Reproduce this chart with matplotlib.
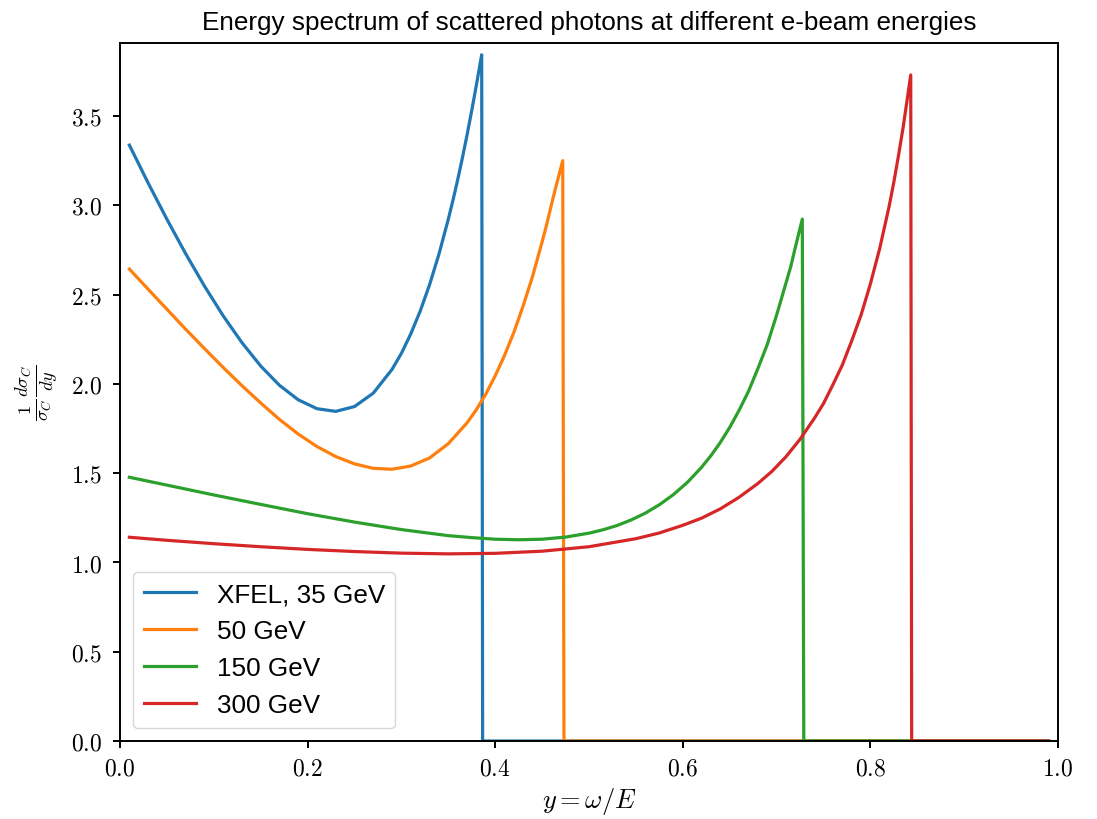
import numpy as np
import matplotlib as mpl
mpl.use('Agg')
import matplotlib.pyplot as plt

# values (y = omega/E, normalised spectrum)
xfel_x = [0.01, 0.03, 0.05, 0.07, 0.09, 0.11, 0.13, 0.15, 0.17, 0.19, 0.21, 0.23,
          0.25, 0.27, 0.29, 0.30, 0.31, 0.32, 0.33, 0.34, 0.35, 0.355, 0.36, 0.365,
          0.37, 0.375, 0.38, 0.383, 0.3856, 0.3866, 0.99]
xfel_y = [3.337, 3.125, 2.922, 2.729, 2.548, 2.381, 2.231, 2.100, 1.992, 1.911, 1.861, 1.846,
          1.873, 1.948, 2.081, 2.171, 2.280, 2.407, 2.555, 2.726, 2.922, 3.029, 3.143, 3.265,
          3.394, 3.531, 3.675, 3.766, 3.843, 0.0, 0.0]

e50_x = [0.01, 0.03, 0.05, 0.07, 0.09, 0.11, 0.13, 0.15, 0.17, 0.19, 0.21, 0.23,
         0.25, 0.27, 0.29, 0.31, 0.33, 0.35, 0.37, 0.38, 0.39, 0.40, 0.41, 0.42,
         0.43, 0.44, 0.45, 0.455, 0.46, 0.465, 0.472, 0.4733, 0.99]
e50_y = [2.643, 2.530, 2.418, 2.306, 2.198, 2.092, 1.990, 1.893, 1.801, 1.719, 1.649, 1.593,
         1.552, 1.527, 1.522, 1.540, 1.585, 1.665, 1.782, 1.856, 1.943, 2.045, 2.160, 2.290,
         2.440, 2.605, 2.795, 2.895, 3.005, 3.110, 3.250, 0.0, 0.0]

e150_x = [0.01, 0.05, 0.10, 0.15, 0.20, 0.25, 0.30, 0.35, 0.375, 0.40, 0.425, 0.45,
          0.475, 0.50, 0.515, 0.53, 0.545, 0.56, 0.575, 0.59, 0.605, 0.62, 0.63, 0.64,
          0.65, 0.66, 0.67, 0.68, 0.69, 0.70, 0.71, 0.715, 0.72, 0.7235, 0.7274, 0.7290, 0.99]
e150_y = [1.477, 1.433, 1.378, 1.325, 1.273, 1.226, 1.184, 1.150, 1.139, 1.130, 1.127, 1.130,
          1.142, 1.164, 1.183, 1.207, 1.238, 1.276, 1.323, 1.380, 1.449, 1.533, 1.598, 1.672,
          1.756, 1.852, 1.958, 2.085, 2.220, 2.385, 2.565, 2.655, 2.765, 2.840, 2.923, 0.0, 0.0]

e300_x = [0.01, 0.05, 0.10, 0.15, 0.20, 0.25, 0.30, 0.35, 0.40, 0.45, 0.50, 0.55,
          0.575, 0.60, 0.62, 0.64, 0.66, 0.68, 0.695, 0.71, 0.725, 0.74, 0.75, 0.76,
          0.77, 0.78, 0.79, 0.80, 0.81, 0.82, 0.825, 0.83, 0.835, 0.839, 0.843, 0.8440, 0.99]
e300_y = [1.141, 1.124, 1.105, 1.088, 1.073, 1.061, 1.052, 1.048, 1.051, 1.063, 1.088, 1.133,
          1.165, 1.208, 1.248, 1.300, 1.365, 1.442, 1.510, 1.592, 1.690, 1.805, 1.890, 1.995,
          2.105, 2.240, 2.385, 2.560, 2.760, 2.995, 3.130, 3.280, 3.440, 3.585, 3.730, 0.0, 0.0]

labels = ['XFEL, 35 GeV', '50 GeV', '150 GeV', '300 GeV']

plt.rcParams['font.family'] = 'serif'
plt.rcParams['font.serif'] = ['cmr10']
plt.rcParams['mathtext.fontset'] = 'cm'
plt.rcParams['axes.formatter.use_mathtext'] = True
plt.rcParams['font.size'] = 17

fig, ax = plt.subplots(figsize=(10.97, 8.2), dpi=100)
fig.subplots_adjust(left=120/1097, right=1058/1097, top=1-44/820, bottom=1-742/820)

for xs, ys, lab in zip([xfel_x, e50_x, e150_x, e300_x],
                       [xfel_y, e50_y, e150_y, e300_y], labels):
    ax.plot(xs, ys, lw=2.3, label=lab)

ax.set_xlim(0, 1)
ax.set_ylim(0, 3.909)
ax.set_yticks(np.arange(0, 3.6, 0.5))
for s in ax.spines.values():
    s.set_linewidth(1.4)
ax.tick_params(width=1.4, length=5)
ax.tick_params(axis='y', pad=8)
ax.tick_params(axis='x', pad=7)

ax.set_xlabel(r'$y = \omega / E$', fontsize=19)
ax.set_ylabel(r'$\frac{1}{\sigma_C}\frac{d\sigma_C}{dy}$', fontsize=19, labelpad=8)
ax.set_title('Energy spectrum of scattered photons at different e-beam energies',
             family='Liberation Sans', fontsize=18.8, pad=10)
ax.legend(loc='lower left', prop={'family': 'Liberation Sans', 'size': 18.8})

fig.savefig('out.png', dpi=100)
